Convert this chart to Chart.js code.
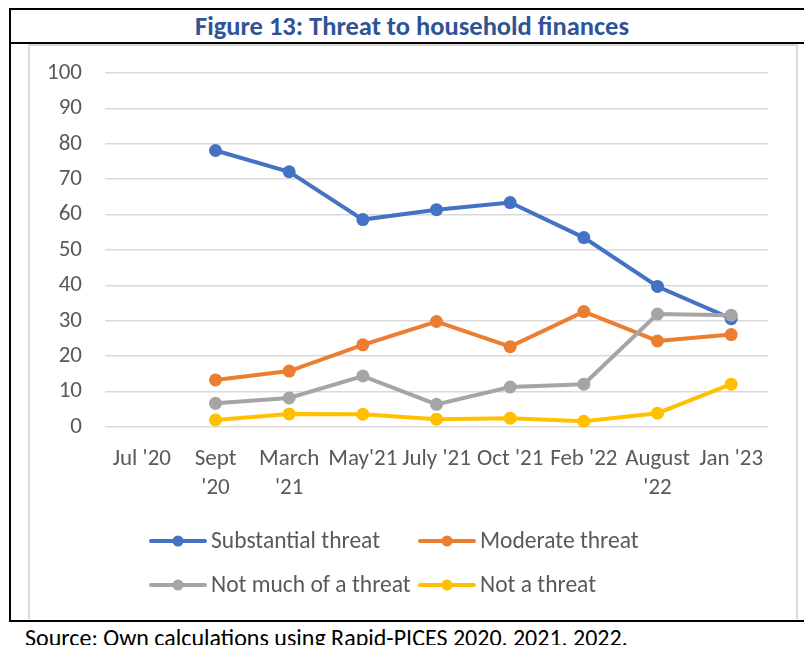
<!DOCTYPE html>
<html lang="en">
<head>
  <meta charset="UTF-8">
  <title>Figure 13: Threat to household finances</title>
  <script src="https://cdn.jsdelivr.net/npm/chart.js"></script>
  <style>
    body {
      margin: 0;
      background: #fff;
      font-family: Carlito, Lato, sans-serif;
      width: 804px;
      height: 645px;
      overflow: hidden;
      position: relative;
    }
    .line { position: absolute; background: #000; }
    .title {
      position: absolute;
      left: 10px; top: 10px; width: 804px; height: 32px;
      text-align: center;
      line-height: 32px;
      font-weight: bold;
      font-size: 26.5px;
      color: #2F5496;
    }
    .chart-box {
      position: absolute;
      left: 28px; top: 44px;
      width: 766px; height: 573px;
      border: 2px solid #d9d9d9;
      border-bottom: 0;
    }
    .source {
      position: absolute;
      left: 25px; top: 624px;
      font-size: 24px;
      line-height: 28px;
      color: #000;
      white-space: nowrap;
    }
  </style>
</head>
<body>
  <div class="line" style="left:9px;top:8px;width:795px;height:2px"></div>
  <div class="line" style="left:9px;top:42px;width:795px;height:2px"></div>
  <div class="line" style="left:9px;top:8px;width:2px;height:614px"></div>
  <div class="line" style="left:9px;top:620px;width:795px;height:2px"></div>
  <div class="title">Figure 13: Threat to household finances</div>
  <div class="chart-box">
    <canvas id="threatChart" width="766" height="573"></canvas>
  </div>
  <div class="source">Source: Own calculations using Rapid-PICES 2020, 2021, 2022.</div>
  <script>
    // Survey waves (x axis)
    const categories = ["Jul '20", ['Sept', "'20"], ['March', "'21"], "May'21", "July '21", "Oct '21", "Feb '22", ['August', "'22"], "Jan '23"];
    // Percent of respondents
    const substantial = [null, 78.1, 72.1, 58.6, 61.4, 63.4, 53.5, 39.7, 30.6];
    const moderate = [null, 13.3, 15.8, 23.2, 29.8, 22.7, 32.6, 24.3, 26.1];
    const notMuch = [null, 6.7, 8.2, 14.4, 6.4, 11.3, 12.1, 31.9, 31.6];
    const notThreat = [null, 2.0, 3.7, 3.6, 2.2, 2.5, 1.6, 3.9, 12.1];
    const seriesNames = ['Substantial threat', 'Moderate threat', 'Not much of a threat', 'Not a threat'];
    const seriesColors = ['#4472C4', '#ED7D31', '#A5A5A5', '#FFC000'];
    const yTicks = [0, 10, 20, 30, 40, 50, 60, 70, 80, 90, 100];

    const fontFamily = 'Carlito, Lato, sans-serif';
    const tickColor = '#595959';

    // Legend drawn in two fixed columns like the Excel original
    const legendPlugin = {
      id: 'gridLegend',
      afterDraw(chart) {
        const ctx = chart.ctx;
        const cols = [121, 390];
        const rows = [495, 539];
        ctx.save();
        ctx.font = '23.5px ' + fontFamily;
        ctx.textBaseline = 'middle';
        chart.data.datasets.forEach((ds, i) => {
          const x = cols[i % 2];
          const y = rows[Math.floor(i / 2)];
          ctx.strokeStyle = ds.borderColor;
          ctx.lineWidth = 4;
          ctx.lineCap = 'round';
          ctx.beginPath();
          ctx.moveTo(x, y);
          ctx.lineTo(x + 54, y);
          ctx.stroke();
          ctx.fillStyle = ds.borderColor;
          ctx.beginPath();
          ctx.arc(x + 27, y, 5.5, 0, Math.PI * 2);
          ctx.fill();
          ctx.fillStyle = tickColor;
          ctx.fillText(ds.label, x + 60, y + 1);
        });
        ctx.restore();
      }
    };

    const allSeries = [substantial, moderate, notMuch, notThreat];
    const datasets = allSeries.map((values, i) => ({
      label: seriesNames[i],
      data: values,
      borderColor: seriesColors[i],
      backgroundColor: seriesColors[i],
      borderWidth: 4,
      pointRadius: 6.5,
      pointBorderWidth: 0,
      pointBackgroundColor: seriesColors[i],
      tension: 0,
      order: allSeries.length - i
    }));

    new Chart(document.getElementById('threatChart').getContext('2d'), {
      type: 'line',
      data: { labels: categories, datasets: datasets },
      options: {
        responsive: false,
        animation: false,
        layout: { padding: { top: 27, right: 28, left: 0, bottom: 0 } },
        plugins: {
          legend: { display: false },
          tooltip: { enabled: false }
        },
        scales: {
          x: {
            offset: true,
            grid: { display: false, drawTicks: false },
            border: { display: false },
            ticks: {
              color: tickColor,
              font: { family: fontFamily, size: 23, lineHeight: 1.26 },
              padding: 18,
              maxRotation: 0,
              autoSkip: false
            },
            afterFit(axis) { axis.height = 192; }
          },
          y: {
            min: 0,
            max: 100,
            afterBuildTicks(axis) { axis.ticks = yTicks.map(v => ({ value: v })); },
            grid: { color: '#d9d9d9', lineWidth: 1.5, drawTicks: false },
            border: { display: false },
            ticks: {
              color: tickColor,
              font: { family: fontFamily, size: 23 },
              padding: 23
            },
            afterFit(axis) {
              axis.width = 75;
              axis.paddingTop = 0;
              axis.paddingBottom = 0;
            }
          }
        }
      },
      plugins: [legendPlugin]
    });
  </script>
</body>
</html>
